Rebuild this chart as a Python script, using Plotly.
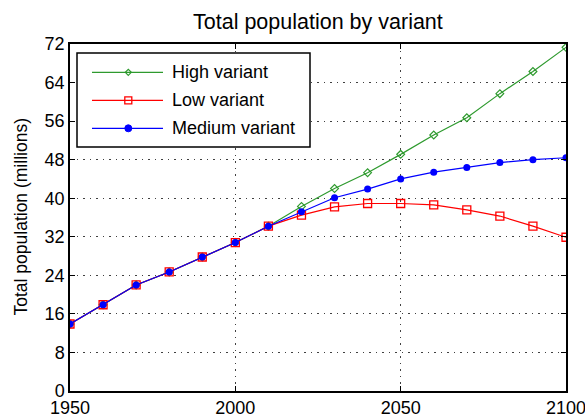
import plotly.graph_objects as go

years = [1950, 1960, 1970, 1980, 1990, 2000, 2010, 2020, 2030, 2040, 2050, 2060, 2070, 2080, 2090, 2100]
high_variant = [13.9, 17.9, 22.0, 24.7, 27.8, 30.8, 34.2, 38.3, 42.0, 45.3, 49.1, 53.1, 56.7, 61.7, 66.3, 71.3]
low_variant = [13.9, 17.9, 22.0, 24.7, 27.8, 30.8, 34.2, 36.5, 38.2, 38.9, 38.9, 38.6, 37.6, 36.3, 34.2, 31.9]
medium_variant = [13.9, 17.9, 22.0, 24.7, 27.8, 30.8, 34.2, 37.2, 40.1, 41.9, 44.0, 45.4, 46.4, 47.4, 48.0, 48.4]

x_ticks = [1950, 2000, 2050, 2100]
y_ticks = [0, 8, 16, 24, 32, 40, 48, 56, 64, 72]

series_names = ["High variant", "Low variant", "Medium variant"]
GREEN, RED, BLUE = "#2e9a2e", "#ff0000", "#0000ff"
FONT = "Liberation Sans, Arial, sans-serif"

W, H = 585, 417
L, T, R, B = 70, 44, 19, 26
PW, PH = W - L - R, H - T - B


def px(x):
    """window pixel x -> paper coordinate"""
    return (x - L) / PW


def py(y):
    """window pixel y -> paper coordinate"""
    return (H - B - y) / PH


fig = go.Figure()
fig.add_trace(go.Scatter(x=years, y=high_variant, mode="lines+markers", name=series_names[0],
                         line=dict(color=GREEN, width=1.2),
                         marker=dict(symbol="diamond-open", size=6, color=GREEN, line=dict(width=1.2))))
fig.add_trace(go.Scatter(x=years, y=low_variant, mode="lines+markers", name=series_names[1],
                         line=dict(color=RED, width=1.2),
                         marker=dict(symbol="square-open", size=8, color=RED, line=dict(width=1.3))))
fig.add_trace(go.Scatter(x=years, y=medium_variant, mode="lines+markers", name=series_names[2],
                         line=dict(color=BLUE, width=1.2),
                         marker=dict(symbol="circle", size=7, color=BLUE)))

axis_common = dict(showline=True, linecolor="black", linewidth=1.5, mirror="allticks",
                   ticks="inside", ticklen=5, tickwidth=1.2, tickcolor="black",
                   showgrid=True, gridcolor="#404040", gridwidth=1.2, griddash="1.5px,5px",
                   zeroline=False, ticklabeloverflow="allow",
                   tickfont=dict(family=FONT, size=18, color="black"))

fig.update_xaxes(range=[1950, 2100], tickvals=x_ticks, ticktext=[str(v) for v in x_ticks],
                 ticklabelstandoff=0, **axis_common)
fig.update_yaxes(range=[0, 72], tickvals=y_ticks, ticktext=[str(v) for v in y_ticks], **axis_common)

# Manual legend (MATLAB style)
shapes = [dict(type="rect", xref="paper", yref="paper", x0=px(77), x1=px(310), y0=py(147), y1=py(53),
               line=dict(color="black", width=1.5), fillcolor="white", layer="above")]
annotations = []
rows = [(72.3, GREEN, "diamond"), (100.3, RED, "square"), (128.3, BLUE, "circle")]
for (yy, col, sym), name in zip(rows, series_names):
    shapes.append(dict(type="line", xref="paper", yref="paper", x0=px(92), x1=px(163), y0=py(yy), y1=py(yy),
                       line=dict(color=col, width=1.2), layer="above"))
    mx, my = px(128.3), py(yy)
    if sym == "square":
        shapes.append(dict(type="rect", xref="paper", yref="paper", xsizemode="pixel", ysizemode="pixel",
                           xanchor=mx, yanchor=my, x0=-3.5, x1=3.5, y0=-3.5, y1=3.5,
                           line=dict(color=col, width=1.3), fillcolor="rgba(0,0,0,0)", layer="above"))
    elif sym == "circle":
        shapes.append(dict(type="circle", xref="paper", yref="paper", xsizemode="pixel", ysizemode="pixel",
                           xanchor=mx, yanchor=my, x0=-3.5, x1=3.5, y0=-3.5, y1=3.5,
                           line=dict(color=col, width=1), fillcolor=col, layer="above"))
    else:
        shapes.append(dict(type="path", xref="paper", yref="paper", xsizemode="pixel", ysizemode="pixel",
                           xanchor=mx, yanchor=my, path="M0,-3 L3,0 L0,3 L-3,0 Z",
                           line=dict(color=col, width=1.2), fillcolor="rgba(0,0,0,0)", layer="above"))
    annotations.append(dict(xref="paper", yref="paper", x=px(170), y=py(yy), text=name, showarrow=False,
                            xanchor="left", yanchor="middle", font=dict(family=FONT, size=18, color="black")))

annotations.append(dict(xref="paper", yref="paper", x=px(20), y=0.5, text="Total population (millions)",
                        textangle=-90, showarrow=False, xanchor="center", yanchor="middle",
                        font=dict(family=FONT, size=17.5, color="black")))
annotations.append(dict(xref="paper", yref="paper", x=0.5, y=py(22), text="Total population by variant",
                        showarrow=False, xanchor="center", yanchor="middle",
                        font=dict(family=FONT, size=21.5, color="black")))

fig.update_layout(width=W, height=H, margin=dict(l=L, r=R, t=T, b=B, autoexpand=False),
                  paper_bgcolor="white", plot_bgcolor="white", showlegend=False,
                  shapes=shapes, annotations=annotations)

fig.write_html("out.html", config={"displayModeBar": False},
               post_script="document.body.style.margin='0';document.body.style.overflow='hidden';")
